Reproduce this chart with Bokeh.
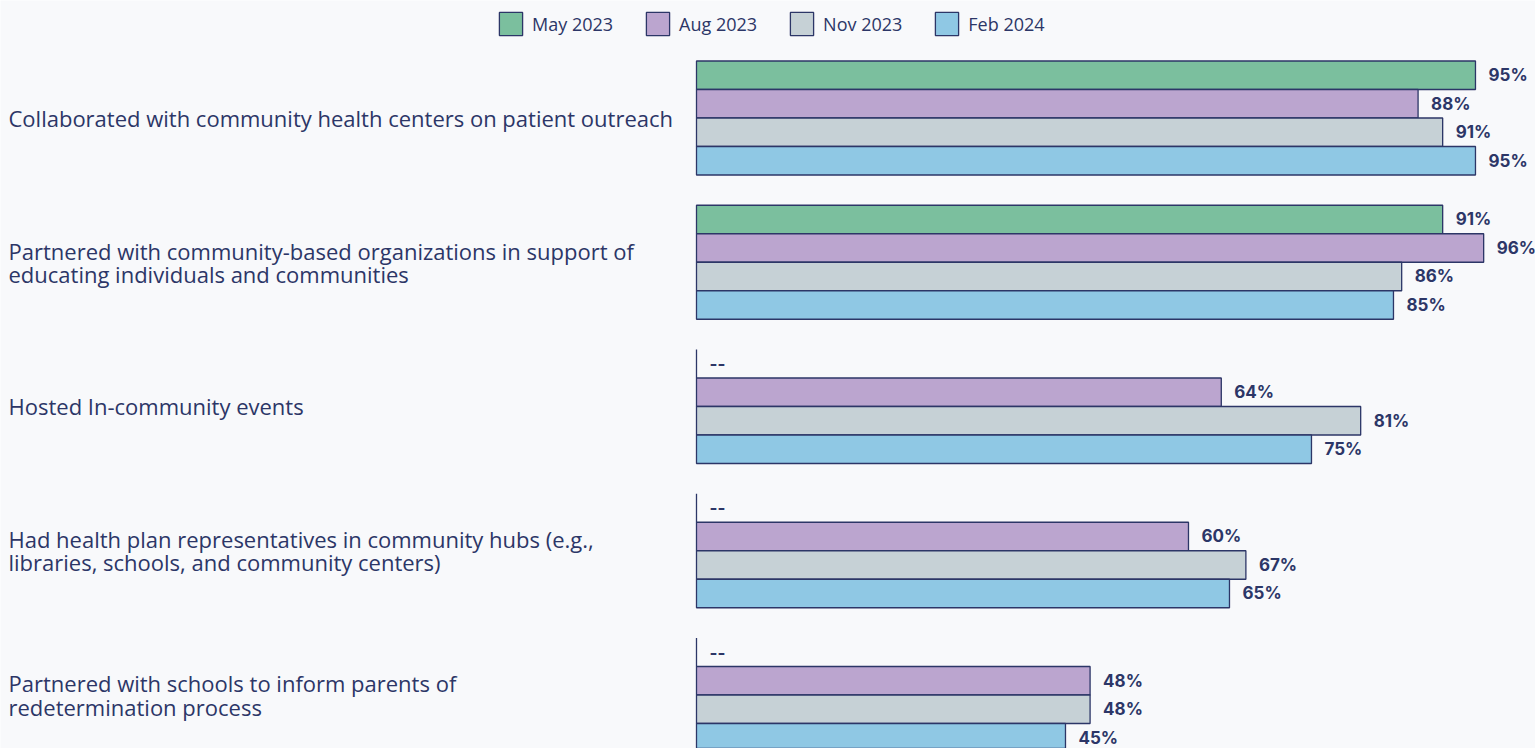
from bokeh.plotting import figure
from bokeh.models import Range1d, ColumnDataSource, Legend, LegendItem
from bokeh.core.properties import value
from bokeh.embed import file_html
from bokeh.resources import INLINE

categories = [
    "Collaborated with community health centers on patient outreach",
    "Partnered with community-based organizations in support of\neducating individuals and communities",
    "Hosted In-community events",
    "Had health plan representatives in community hubs (e.g.,\nlibraries, schools, and community centers)",
    "Partnered with schools to inform parents of\nredetermination process",
]
series_names = ["May 2023", "Aug 2023", "Nov 2023", "Feb 2024"]
may_2023 = [95, 91, None, None, None]
aug_2023 = [88, 96, 64, 60, 48]
nov_2023 = [91, 86, 81, 67, 48]
feb_2024 = [95, 85, 75, 65, 45]
series_values = [may_2023, aug_2023, nov_2023, feb_2024]
colors = ["#7bbf9e", "#bba5cf", "#c6d1d6", "#8fc8e4"]

NAVY = "#2c3667"
BG = "#f8f9fb"
BAR_H = 0.1976

p = figure(width=1535, height=748, output_backend="svg", toolbar_location=None,
           x_range=Range1d(-84.88, 102.32), y_range=Range1d(4.371, -0.8146),
           min_border_left=0, min_border_right=0, min_border_top=0, min_border_bottom=0,
           background_fill_color=BG, border_fill_color=BG, outline_line_color=None)
p.axis.visible = False
p.grid.visible = False

items = []
for j, (name, vals, col) in enumerate(zip(series_names, series_values, colors)):
    ys = [i + (j - 1.5) * BAR_H for i in range(len(categories))]
    rights = [v if v is not None else 0 for v in vals]
    labels = [f"{v}%" if v is not None else "--" for v in vals]
    src = ColumnDataSource(dict(y=ys, right=rights, label=labels))
    r = p.hbar(y="y", left=0, right="right", height=BAR_H, source=src,
               fill_color=col, line_color=NAVY, line_width=1.3)
    p.text(x="right", y="y", text="label", source=src, x_offset=13, y_offset=0,
           text_align="left", text_baseline="middle", text_color=NAVY,
           text_font=value("Inter"), text_font_size="17px", text_font_style="bold")
    items.append(LegendItem(label=name, renderers=[r]))

cat_src = ColumnDataSource(dict(x=[p.x_range.start] * len(categories),
                                y=list(range(len(categories))), text=categories))
p.text(x="x", y="y", text="text", source=cat_src, x_offset=8,
       text_align="left", text_baseline="middle", text_color=NAVY,
       text_font=value("Open Sans"), text_font_size="22px", text_line_height=0.77)

legend = Legend(items=items, orientation="horizontal", location=(496, 710),
                margin=0, padding=0, spacing=30, label_standoff=7,
                glyph_width=29, glyph_height=29, label_height=29,
                border_line_color=None, background_fill_alpha=0,
                label_text_font="Open Sans", label_text_font_size="18px",
                label_text_color=NAVY)
p.add_layout(legend, "center")

open("out.html", "w").write(file_html(p, INLINE))
